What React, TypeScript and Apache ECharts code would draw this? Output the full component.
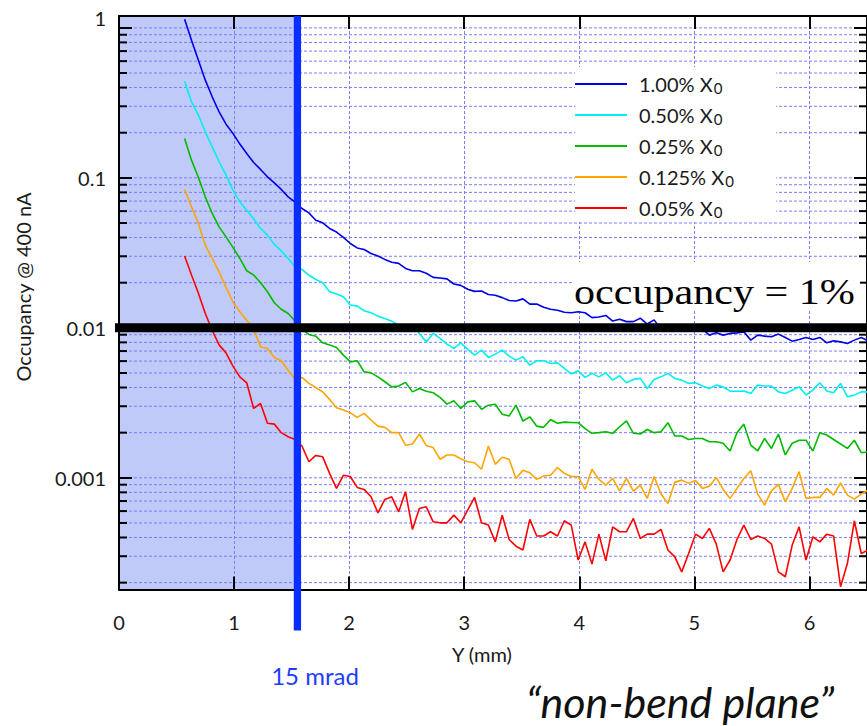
import React, { useEffect, useRef } from "react";
import * as echarts from "echarts";

// Bin centres along Y (mm) — uniform sampling of the simulated occupancy histogram
const Y_MM: number[] = Array.from({ length: 100 }, (_, i) => Math.round((0.57 + 0.06 * i) * 100) / 100);

const SERIES_NAMES = ["1.00% X\u2080", "0.50% X\u2080", "0.25% X\u2080", "0.125% X\u2080", "0.05% X\u2080"];
const SERIES_COLORS = ["#0000e8", "#00f0f0", "#00bb00", "#ffa500", "#ff0000"];

const OCC_100 = [
  1.14, 0.828, 0.609, 0.448, 0.347, 0.275, 0.228, 0.198, 0.168, 0.1455,
  0.1267, 0.1138, 0.1016, 0.0926, 0.0837, 0.0747, 0.0689, 0.0625, 0.0584, 0.0522,
  0.0501, 0.046, 0.0435, 0.0401, 0.0365, 0.0341, 0.0333, 0.0313, 0.0301, 0.0286,
  0.0274, 0.0269, 0.0249, 0.024, 0.024, 0.0231, 0.0217, 0.0215, 0.0212, 0.0196,
  0.0192, 0.0181, 0.0175, 0.0176, 0.0167, 0.0165, 0.0159, 0.0152, 0.0151, 0.0156,
  0.0144, 0.0144, 0.0137, 0.0133, 0.0131, 0.0127, 0.0126, 0.0128, 0.0126, 0.0117,
  0.0118, 0.0121, 0.0111, 0.0114, 0.011, 0.011, 0.0116, 0.0106, 0.0113, 0.0098,
  0.0101, 0.0097, 0.0099, 0.0096, 0.01, 0.0098, 0.00894, 0.00926, 0.00894, 0.00918,
  0.00926, 0.0094, 0.00828, 0.00894, 0.00881, 0.00871, 0.00908, 0.00863, 0.00815, 0.00837,
  0.00863, 0.00837, 0.00863, 0.00794, 0.00819, 0.00806, 0.00787, 0.00828, 0.00863, 0.00819,
];

const OCC_050 = [
  0.441, 0.321, 0.262, 0.2025, 0.161, 0.128, 0.1042, 0.0828, 0.0692, 0.0609,
  0.0533, 0.046, 0.0415, 0.036, 0.0326, 0.029, 0.0255, 0.0245, 0.0225, 0.021,
  0.02, 0.0174, 0.0168, 0.0161, 0.0142, 0.01395, 0.013, 0.0126, 0.01197, 0.01156,
  0.01108, 0.0104, 0.0099, 0.0102, 0.00918, 0.00806, 0.00918, 0.0085, 0.00778, 0.00729,
  0.00794, 0.00718, 0.00658, 0.0071, 0.00635, 0.00668, 0.0071, 0.00648, 0.00609, 0.00641,
  0.00564, 0.00603, 0.00603, 0.00579, 0.00584, 0.00536, 0.00493, 0.00517, 0.00467, 0.00497,
  0.00471, 0.00501, 0.00448, 0.00479, 0.0043, 0.00453, 0.0046, 0.00394, 0.00453, 0.00471,
  0.00497, 0.0046, 0.00448, 0.00426, 0.0043, 0.00409, 0.00394, 0.00415, 0.00404, 0.00378,
  0.00378, 0.00379, 0.00365, 0.00415, 0.00409, 0.00409, 0.00374, 0.00365, 0.00384, 0.00404,
  0.00356, 0.00384, 0.0043, 0.00379, 0.00369, 0.00426, 0.00347, 0.00356, 0.00374, 0.00374,
];

const OCC_025 = [
  0.183, 0.1312, 0.1006, 0.0747, 0.0579, 0.0471, 0.0404, 0.0344, 0.029, 0.024,
  0.0225, 0.02, 0.0174, 0.0147, 0.0133, 0.01247, 0.0111, 0.00976, 0.00904, 0.0088,
  0.00794, 0.00767, 0.0074, 0.00658, 0.00593, 0.00603, 0.00509, 0.00501, 0.00471, 0.00437,
  0.00404, 0.00409, 0.00433, 0.00374, 0.00394, 0.00378, 0.00369, 0.00344, 0.0031, 0.00326,
  0.0029, 0.00321, 0.00326, 0.00286, 0.00305, 0.00309, 0.00265, 0.00258, 0.00305, 0.00239,
  0.00255, 0.00221, 0.00217, 0.00245, 0.00231, 0.00235, 0.00234, 0.00233, 0.00213, 0.00198,
  0.002, 0.00203, 0.00198, 0.00219, 0.0024, 0.00198, 0.00196, 0.0021, 0.002, 0.00203,
  0.00233, 0.0019, 0.0019, 0.0018, 0.00183, 0.00183, 0.00174, 0.00174, 0.0017, 0.00151,
  0.002, 0.00228, 0.00165, 0.00151, 0.00183, 0.00157, 0.00196, 0.00142, 0.0017, 0.00178,
  0.00178, 0.00151, 0.002, 0.00193, 0.0018, 0.00168, 0.00157, 0.00178, 0.00147, 0.00149,
];

const OCC_0125 = [
  0.0837, 0.0641, 0.0497, 0.0356, 0.029, 0.0236, 0.0186, 0.0149, 0.0128, 0.01125,
  0.0098, 0.00747, 0.00729, 0.00635, 0.00603, 0.00522, 0.00455, 0.00467, 0.00426, 0.004,
  0.00374, 0.00333, 0.00293, 0.00283, 0.00271, 0.00253, 0.00269, 0.00243, 0.00221, 0.00217,
  0.002, 0.002, 0.00165, 0.00168, 0.00196, 0.00164, 0.00159, 0.00133, 0.00142, 0.00142,
  0.00134, 0.00128, 0.00126, 0.00114, 0.00163, 0.00123, 0.00137, 0.00133, 0.00099, 0.001125,
  0.00108, 0.000976, 0.00103, 0.00104, 0.00117, 0.00107, 0.00102, 0.00102, 0.000837, 0.00114,
  0.000976, 0.000894, 0.00099, 0.000819, 0.00099, 0.000816, 0.000894, 0.000729, 0.00102, 0.000779,
  0.000675, 0.000936, 0.000965, 0.000918, 0.000958, 0.00085, 0.00088, 0.001006, 0.000837, 0.000729,
  0.00085, 0.00099, 0.001113, 0.000779, 0.000658, 0.000819, 0.000904, 0.000692, 0.00085, 0.0011,
  0.000729, 0.00074, 0.00074, 0.00085, 0.000767, 0.000926, 0.000767, 0.000721, 0.000779, 0.000828,
];

const OCC_005 = [
  0.0301, 0.0225, 0.017, 0.01247, 0.0096, 0.0077, 0.00681, 0.00556, 0.00471, 0.0043,
  0.0029, 0.00313, 0.00231, 0.00228, 0.002, 0.00188, 0.0018, 0.00163, 0.00128, 0.00141,
  0.00138, 0.00107, 0.00085, 0.00104, 0.00102, 0.000863, 0.000837, 0.000747, 0.000584, 0.000718,
  0.000747, 0.000593, 0.000806, 0.000453, 0.000625, 0.000641, 0.000509, 0.000501, 0.000501, 0.000564,
  0.000501, 0.000609, 0.00074, 0.000501, 0.000484, 0.000374, 0.000564, 0.000388, 0.00035, 0.00033,
  0.000528, 0.000409, 0.000409, 0.000437, 0.000409, 0.000517, 0.000484, 0.000283, 0.000374, 0.000266,
  0.000421, 0.00028, 0.000471, 0.000437, 0.000437, 0.000536, 0.000394, 0.000421, 0.000421, 0.000453,
  0.00033, 0.000297, 0.000236, 0.000313, 0.000421, 0.000394, 0.00046, 0.000361, 0.000236, 0.000283,
  0.000388, 0.000484, 0.000388, 0.000409, 0.000394, 0.000361, 0.000236, 0.000219, 0.000356, 0.000471,
  0.000283, 0.000404, 0.000374, 0.000421, 0.000409, 0.000188, 0.000269, 0.000517, 0.000313, 0.00033,
];

const SERIES_VALUES = [OCC_100, OCC_050, OCC_025, OCC_0125, OCC_005];

// Axis structure
const X_MIN = 0;
const X_MAX = 6.5;
const Y_MIN = 0.00018;
const Y_MAX = 1.2;
const Y_MAJOR = [1, 0.1, 0.01, 0.001];
const Y_MINOR: number[] = [];
for (const dec of [0.0001, 0.001, 0.01, 0.1]) {
  for (let k = 2; k <= 9; k++) Y_MINOR.push(Number((k * dec).toPrecision(2)));
}
const THRESHOLD = 0.01; // occupancy = 1%
const BEAM_EDGE_MM = 1.55; // 15 mrad

const GRID_COLOR = "#7c7cff";
const SHADE_COLOR = "#bfcaf9";
const BEAM_COLOR = "#0a2dff";
const FONT = "Lato, 'Open Sans', sans-serif";

export default function App() {
  const ref = useRef<HTMLDivElement>(null);

  useEffect(() => {
    if (!ref.current) return;
    const chart = echarts.init(ref.current, undefined, { renderer: "svg" });

    const axisLineStyle = { color: "#000", width: 2 };
    const tickStyle = { color: "#000", width: 2 };

    const lineSeries = SERIES_NAMES.map((name, si) => ({
      name,
      type: "line",
      xAxisIndex: 0,
      yAxisIndex: 0,
      symbol: "none",
      z: 3,
      clip: true,
      lineStyle: { color: SERIES_COLORS[si], width: 1.6 },
      itemStyle: { color: SERIES_COLORS[si] },
      data: Y_MM.map((x, i) => [x, SERIES_VALUES[si][i]]),
    }));

    const gridLevels = [...Y_MAJOR, ...Y_MINOR].map((v) => [0, v, Y_MAJOR.includes(v) ? 1 : 0]);

    const option: any = {
      animation: false,
      backgroundColor: "#ffffff",
      grid: { left: 119, top: 16, right: -1, bottom: 136.5, containLabel: false },
      legend: {
        show: true,
        orient: "vertical",
        left: 575,
        top: 73,
        z: 30,
        selectedMode: false,
        icon: "rect",
        itemWidth: 52,
        itemHeight: 2,
        itemGap: 9,
        padding: 0,
        data: SERIES_NAMES,
        formatter: (name: string) => `{a|${name.replace("X\u2080", "X")}}{s|0}`,
        textStyle: {
          fontFamily: FONT,
          fontSize: 20,
          lineHeight: 22,
          color: "#1a1a1a",
          padding: [0, 0, 0, 7],
          rich: {
            a: { fontFamily: FONT, fontSize: 20, lineHeight: 22, color: "#1a1a1a" },
            s: {
              fontFamily: FONT,
              fontSize: 15,
              lineHeight: 10,
              color: "#1a1a1a",
              verticalAlign: "bottom",
              padding: [0, 0, 0, 1],
            },
          },
        },
      },
      xAxis: [
        {
          type: "value",
          position: "bottom",
          min: X_MIN,
          max: X_MAX,
          interval: 1,
          z: 2,
          axisLine: { show: true, onZero: false, lineStyle: axisLineStyle },
          axisTick: { show: true, inside: true, length: 13, lineStyle: tickStyle },
          axisLabel: {
            show: true,
            margin: 22,
            fontFamily: FONT,
            fontSize: 20,
            color: "#1a1a1a",
            showMaxLabel: false,
          },
          splitLine: { show: true, lineStyle: { color: GRID_COLOR, width: 1, type: [3, 2] } },
        },
        {
          type: "value",
          position: "top",
          min: X_MIN,
          max: X_MAX,
          interval: 1,
          z: 2,
          axisLine: { show: true, onZero: false, lineStyle: axisLineStyle },
          axisTick: { show: true, inside: true, length: 13, lineStyle: tickStyle },
          axisLabel: { show: false },
          splitLine: { show: false },
        },
      ],
      yAxis: [
        {
          type: "log",
          logBase: 10,
          position: "left",
          min: Y_MIN,
          max: Y_MAX,
          z: 2,
          axisLine: { show: true, onZero: false, lineStyle: axisLineStyle },
          axisTick: { show: true, inside: true, length: 13, lineStyle: tickStyle },
          axisLabel: {
            show: true,
            margin: 13,
            fontFamily: FONT,
            fontSize: 20,
            color: "#1a1a1a",
            showMinLabel: false,
            showMaxLabel: false,
            formatter: (v: number) => (v === 1 ? "{top|1}" : String(v)),
            rich: {
              top: { fontFamily: FONT, fontSize: 20, color: "#1a1a1a", padding: [0, 0, 20, 0] },
            },
          },
          splitLine: { show: false },
        },
        {
          type: "log",
          logBase: 10,
          position: "right",
          min: Y_MIN,
          max: Y_MAX,
          z: 2,
          axisLine: { show: true, onZero: false, lineStyle: axisLineStyle },
          axisTick: { show: true, inside: true, length: 13, lineStyle: tickStyle },
          axisLabel: { show: false },
          splitLine: { show: false },
        },
      ],
      series: [
        // shaded region below 15 mrad
        {
          type: "custom",
          silent: true,
          z: 1,
          xAxisIndex: 0,
          yAxisIndex: 0,
          encode: { x: 0, y: 1 },
          data: [[BEAM_EDGE_MM, 1]],
          renderItem: (params: any, api: any) => {
            const cs = params.coordSys;
            const x0 = api.coord([X_MIN, 1])[0];
            const x1 = api.coord([api.value(0), 1])[0];
            return {
              type: "rect",
              shape: { x: x0, y: cs.y, width: x1 - x0, height: cs.height },
              style: { fill: SHADE_COLOR },
            };
          },
        },
        // horizontal grid lines + minor ticks on log axis
        {
          type: "custom",
          silent: true,
          z: 2,
          xAxisIndex: 0,
          yAxisIndex: 0,
          encode: { x: 0, y: 1 },
          data: gridLevels,
          renderItem: (params: any, api: any) => {
            const cs = params.coordSys;
            const y = api.coord([X_MIN, api.value(1)])[1];
            const major = api.value(2) === 1;
            const children: any[] = [
              {
                type: "line",
                shape: { x1: cs.x, y1: y, x2: cs.x + cs.width, y2: y },
                style: { stroke: GRID_COLOR, lineWidth: 1, lineDash: [3, 2] },
              },
            ];
            if (!major) {
              children.push({
                type: "line",
                shape: { x1: cs.x, y1: y, x2: cs.x + 8, y2: y },
                style: { stroke: "#000", lineWidth: 2 },
              });
              children.push({
                type: "line",
                shape: { x1: cs.x + cs.width - 8, y1: y, x2: cs.x + cs.width, y2: y },
                style: { stroke: "#000", lineWidth: 2 },
              });
            }
            return { type: "group", children };
          },
        },
        ...lineSeries,
        // 15 mrad vertical bar
        {
          type: "custom",
          silent: true,
          z: 4,
          xAxisIndex: 0,
          yAxisIndex: 0,
          encode: { x: 0, y: 1 },
          data: [[BEAM_EDGE_MM, 1]],
          renderItem: (params: any, api: any) => {
            const cs = params.coordSys;
            const x = api.coord([api.value(0), 1])[0];
            return {
              type: "rect",
              shape: { x: x - 3.6, y: cs.y, width: 7.3, height: cs.height + 41 },
              style: { fill: BEAM_COLOR },
            };
          },
        },
        // occupancy = 1% line
        {
          type: "custom",
          silent: true,
          z: 8,
          xAxisIndex: 0,
          yAxisIndex: 0,
          encode: { x: 0, y: 1 },
          data: [[X_MIN, THRESHOLD]],
          renderItem: (params: any, api: any) => {
            const cs = params.coordSys;
            const y = api.coord([api.value(0), api.value(1)])[1];
            return {
              type: "rect",
              shape: { x: cs.x - 4, y: y - 4.5, width: cs.width + 10, height: 9 },
              style: { fill: "#000" },
            };
          },
        },
      ],
      graphic: [
        { type: "rect", z: 20, silent: true, shape: { x: 575, y: 67, width: 201, height: 155 }, style: { fill: "#fff" } },
        { type: "rect", z: 20, silent: true, shape: { x: 572, y: 262, width: 288, height: 49 }, style: { fill: "#fff" } },
        {
          type: "text",
          z: 21,
          x: 574,
          y: 292,
          scaleX: 1.17,
          style: {
            text: "occupancy = 1%",
            font: "36px 'Liberation Serif', 'Times New Roman', serif",
            fill: "#000",
            textAlign: "left",
            textVerticalAlign: "middle",
          },
        },
        {
          type: "text",
          z: 21,
          x: 482,
          y: 654,
          style: {
            text: "Y (mm)",
            font: `20px ${FONT}`,
            fill: "#1a1a1a",
            textAlign: "center",
            textVerticalAlign: "middle",
          },
        },
        {
          type: "text",
          z: 21,
          x: 23,
          y: 287,
          rotation: Math.PI / 2,
          style: {
            text: "Occupancy @ 400 nA",
            font: `20px ${FONT}`,
            fill: "#1a1a1a",
            textAlign: "center",
            textVerticalAlign: "middle",
          },
        },
        {
          type: "text",
          z: 21,
          x: 315,
          y: 675,
          style: {
            text: "15 mrad",
            font: `24px ${FONT}`,
            fill: "#1f3dff",
            textAlign: "center",
            textVerticalAlign: "middle",
          },
        },
        {
          type: "text",
          z: 21,
          x: 680,
          y: 701,
          style: {
            text: "\u201Cnon-bend plane\u201D",
            font: `italic 43px ${FONT}`,
            fill: "#111",
            textAlign: "center",
            textVerticalAlign: "middle",
          },
        },
      ],
    };

    chart.setOption(option);
    return () => chart.dispose();
  }, []);

  return (
    <div
      ref={ref}
      style={{ position: "absolute", left: 0, top: 0, width: 867, height: 726, background: "#fff" }}
    />
  );
}
